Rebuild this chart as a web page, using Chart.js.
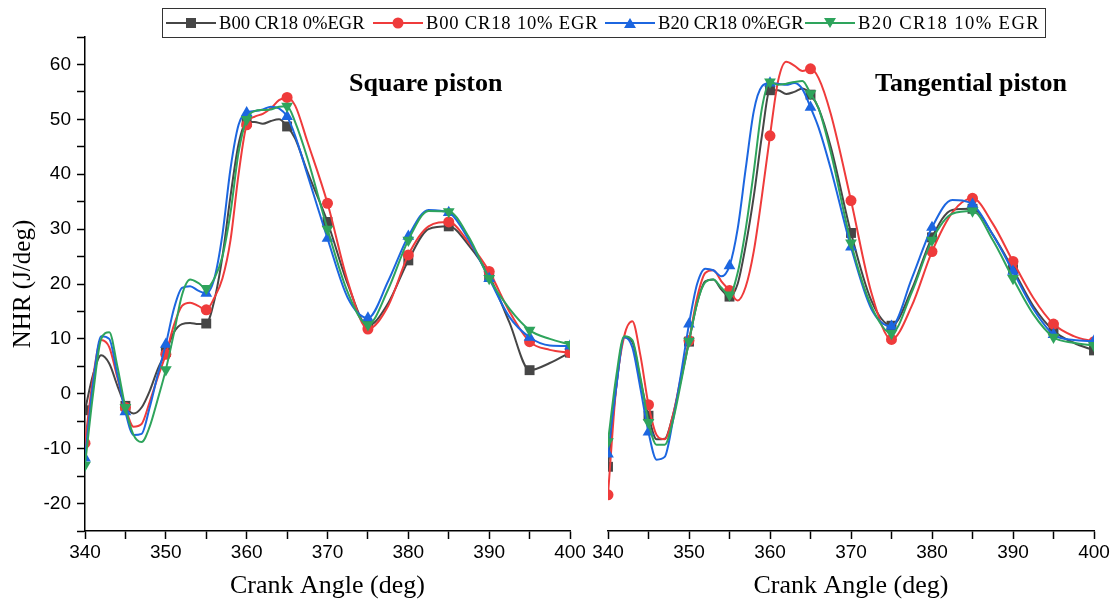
<!DOCTYPE html>
<html>
<head>
<meta charset="utf-8">
<script src="https://cdn.jsdelivr.net/npm/chart.js@4.4.1/dist/chart.umd.min.js"></script>
<style>
body { margin: 0; width: 1115px; height: 606px; background: #fff; position: relative; overflow: hidden; }
#leftBox { position: absolute; left: 0; top: 0; width: 590px; height: 606px; }
#rightBox { position: absolute; left: 580px; top: 0; width: 535px; height: 606px; }
#legend { position: absolute; left: 162px; top: 8px; width: 882px; height: 28px; border: 1px solid #333;
  font-family: "Liberation Serif", serif; font-size: 18.6px; color: #000; }
.item { position: absolute; top: 0; height: 28px; display: flex; align-items: center; white-space: nowrap; }
.swatch { position: relative; width: 50px; height: 28px; margin-right: 3px; }
.swatch .ln { position: absolute; left: 0; right: 0; top: 13px; height: 2px; }
.swatch .mk { position: absolute; left: 50%; top: 50%; transform: translate(-50%, -50%); }
.panelTitle { position: absolute; top: 68px; font-family: "Liberation Serif", serif; font-weight: bold; font-size: 26px; color: #000; }
</style>
</head>
<body>
<div id="leftBox"><canvas id="squareChart"></canvas></div>
<div id="rightBox"><canvas id="tangentChart"></canvas></div>
<div id="legend"></div>
<div class="panelTitle" style="left:349px">Square piston</div>
<div class="panelTitle" style="left:875px">Tangential piston</div>
<script>
// crank angles (markers sit on every 5 deg)
var angles = [340,341,342,343,344,345,346,347,348,349,350,351,352,353,354,355,356,357,358,359,
  360,361,362,363,364,365,366,367.5,370,372.5,375,377.5,380,382.5,385,387.5,390,392.5,395,397.5,400];

var seriesNames = ["B00 CR18 0%EGR", "B00 CR18 10% EGR", "B20 CR18 0%EGR", "B20 CR18 10% EGR"];
var colors = ["#464646", "#ef3b3b", "#1c66e0", "#2ea45c"];
var markers = ["rect", "circle", "triangle", "triangle"];
var rotations = [0, 0, 0, 180];
var markerSize = [7, 5.5, 6.8, 6.8];

var xTicks = [340, 350, 360, 370, 380, 390, 400];
var yTicks = [-20, -10, 0, 10, 20, 30, 40, 50, 60];

// Square piston NHR (J/deg)
var sqB00_0 = [-3,3.5,7,5.5,1.5,-2.2,-3.6,-2.5,0.5,4.5,7.6,11.2,12.7,12.9,12.7,12.8,17,25,36,45.5,
  49.5,49.5,49.2,49.7,50,48.7,46.5,40.5,31.3,20,12.4,16.5,24.3,30,30.5,27,21.5,13,4.3,5.6,7.5];
var sqB00_10 = [-9,3,9.8,8.5,3,-2.5,-6,-5.5,-1.5,3,7.2,12.5,16,16.6,16,15.3,17.5,21,28,40,
  49,50.5,51,52,53.5,54,52.5,46,34.7,20.5,11.8,16,25.3,30.5,31.3,27.5,22.3,15,9.5,8,7.5];
var sqB20_0 = [-11.7,2,10.5,10,3.5,-3.3,-7.5,-7.3,-2.5,3.5,9,15.5,19.3,19.6,18.8,18.3,21,29,41,49,
  51.2,51.5,51.8,52.3,52,50.5,47,40,28.3,17.5,13.8,20.5,28.7,33.5,33,28,21,14,10.3,8.8,8.7];
var sqB20_10 = [-13,0,10,11.2,5,-2.5,-7.5,-8.8,-6,-1,4.4,11,18,20.8,20.2,19.2,21,25,33,44,
  50,51.5,51.7,51.8,52.3,52.4,49.5,43,30,18.5,12.6,19,28,33.3,33.2,28.5,21,15.5,11.6,10,9];

// Tangential piston NHR (J/deg)
var tgB00_0 = [-13.3,1,10.3,9.5,2.5,-4,-8.3,-8.2,-4,2.5,9.5,16.5,20.5,20.8,19,17.7,20,27,36,47,
  55.3,55.3,54.6,55,55.6,54.5,52,45,29.3,17,12.4,19,28.5,33.5,33.7,29,22.7,16,11.5,9.3,7.9];
var tgB00_10 = [-18.4,1,10.5,13.2,7,-2,-7.5,-8.3,-4,3,9.7,17.5,22,22.5,20.5,18.8,17,19.5,26,36,
  47,57,60.5,59.8,58.8,59.2,57.5,51,35.2,18.5,9.9,16,25.9,33,35.6,31,24.1,17.5,12.7,10.5,9.5];
var tgB20_0 = [-11,1,10.3,8.5,1,-7,-12,-11.5,-5,3.5,12.7,20,22.8,22.5,21.4,23.3,30,41,51.5,56,
  56.6,56.5,56.3,56.6,55.5,52.2,48.5,41,26.7,15.5,12.3,21,30.3,35.3,34.5,29,22.3,15.5,10.8,9.8,9.6];
var tgB20_10 = [-8.7,3,10.5,9.8,3,-5.2,-9.3,-9.3,-5,2,9.6,16.5,20.3,20.8,19.3,18,22,30,40.5,52,
  56.8,56.3,56.5,56.8,57,54.7,52,44,27.5,16,11,18.5,28,32.8,33.3,28,21,14.5,10.3,9.3,8.8];

function makeDatasets(list) {
  var sets = [];
  for (var i = 0; i < list.length; i++) {
    var pts = [];
    for (var j = 0; j < angles.length; j++) {
      pts.push({ x: angles[j], y: list[i][j] });
    }
    sets.push({
      label: seriesNames[i],
      data: pts,
      order: list.length - 1 - i,
      borderColor: colors[i],
      backgroundColor: colors[i],
      borderWidth: 2,
      cubicInterpolationMode: "monotone",
      pointStyle: markers[i],
      rotation: rotations[i],
      pointBorderWidth: 0,
      pointRadius: function (c) {
        return c.raw && c.raw.x % 5 === 0 ? markerSize[c.datasetIndex] : 0;
      }
    });
  }
  return sets;
}

var tickFont = { family: "Liberation Sans", size: 19 };
var titleFont = { family: "Liberation Serif", size: 26 };

function xScale() {
  return {
    type: "linear", min: 340, max: 400,
    afterBuildTicks: function (s) {
      s.ticks = [];
      for (var v = 340; v <= 400; v += 5) s.ticks.push({ value: v });
    },
    ticks: {
      color: "#000", font: tickFont, padding: 2, maxRotation: 0, autoSkip: false,
      callback: function (v) { return xTicks.indexOf(v) >= 0 ? String(v) : ""; }
    },
    grid: { drawOnChartArea: false, drawTicks: true, tickLength: 8, color: "#000", tickWidth: 1.5 },
    border: { display: true, color: "#000", width: 1.5 },
    title: { display: true, text: "Crank Angle (deg)", color: "#000", font: titleFont, padding: { top: 2, bottom: 4 } },
    afterFit: function (s) { s.height = 75; }
  };
}

function yScale(show) {
  return {
    display: show, min: -25, max: 65,
    afterBuildTicks: function (s) {
      s.ticks = [];
      for (var v = -25; v <= 65; v += 5) s.ticks.push({ value: v });
    },
    ticks: {
      color: "#000", font: tickFont, padding: 6, autoSkip: false,
      callback: function (v) { return yTicks.indexOf(v) >= 0 ? String(v) : ""; }
    },
    grid: { drawOnChartArea: false, drawTicks: true, tickLength: 8, color: "#000", tickWidth: 1.5 },
    border: { display: true, color: "#000", width: 1.5 },
    title: { display: true, text: "NHR (J/deg)", color: "#000", font: { family: "Liberation Serif", size: 25 }, padding: { top: 8, bottom: 0 } },
    afterFit: function (s) { s.width = show ? 85 : 0; }
  };
}

function makeChart(id, list, showY, pad) {
  return new Chart(document.getElementById(id), {
    type: "line",
    data: { datasets: makeDatasets(list) },
    options: {
      responsive: true,
      maintainAspectRatio: false,
      animation: false,
      events: [],
      layout: { padding: pad },
      plugins: { legend: { display: false }, tooltip: { enabled: false } },
      scales: { x: xScale(), y: yScale(showY) }
    }
  });
}

makeChart("squareChart", [sqB00_0, sqB00_10, sqB20_0, sqB20_10], true, { left: 0, right: 20, top: 37, bottom: 0 });
makeChart("tangentChart", [tgB00_0, tgB00_10, tgB20_0, tgB20_10], false, { left: 28, right: 21, top: 37, bottom: 0 });

// legend box across both panels (the 10% entries are set a little looser)
var legendX = [3, 210, 442, 642];
var letterGap = [0, 0.8, 0, 1.4];
var legend = document.getElementById("legend");
for (var i = 0; i < seriesNames.length; i++) {
  var mk;
  if (markers[i] === "rect") {
    mk = '<div class="mk" style="width:10px;height:10px;background:' + colors[i] + '"></div>';
  } else if (markers[i] === "circle") {
    mk = '<div class="mk" style="width:11px;height:11px;border-radius:50%;background:' + colors[i] + '"></div>';
  } else if (rotations[i] === 0) {
    mk = '<div class="mk" style="width:0;height:0;border-left:6px solid transparent;border-right:6px solid transparent;border-bottom:10px solid ' + colors[i] + '"></div>';
  } else {
    mk = '<div class="mk" style="width:0;height:0;border-left:6px solid transparent;border-right:6px solid transparent;border-top:10px solid ' + colors[i] + '"></div>';
  }
  legend.innerHTML += '<div class="item" style="left:' + legendX[i] + 'px"><div class="swatch"><div class="ln" style="background:' +
    colors[i] + '"></div>' + mk + '</div><span style="letter-spacing:' + letterGap[i] + 'px">' + seriesNames[i] + '</span></div>';
}
</script>
</body>
</html>
